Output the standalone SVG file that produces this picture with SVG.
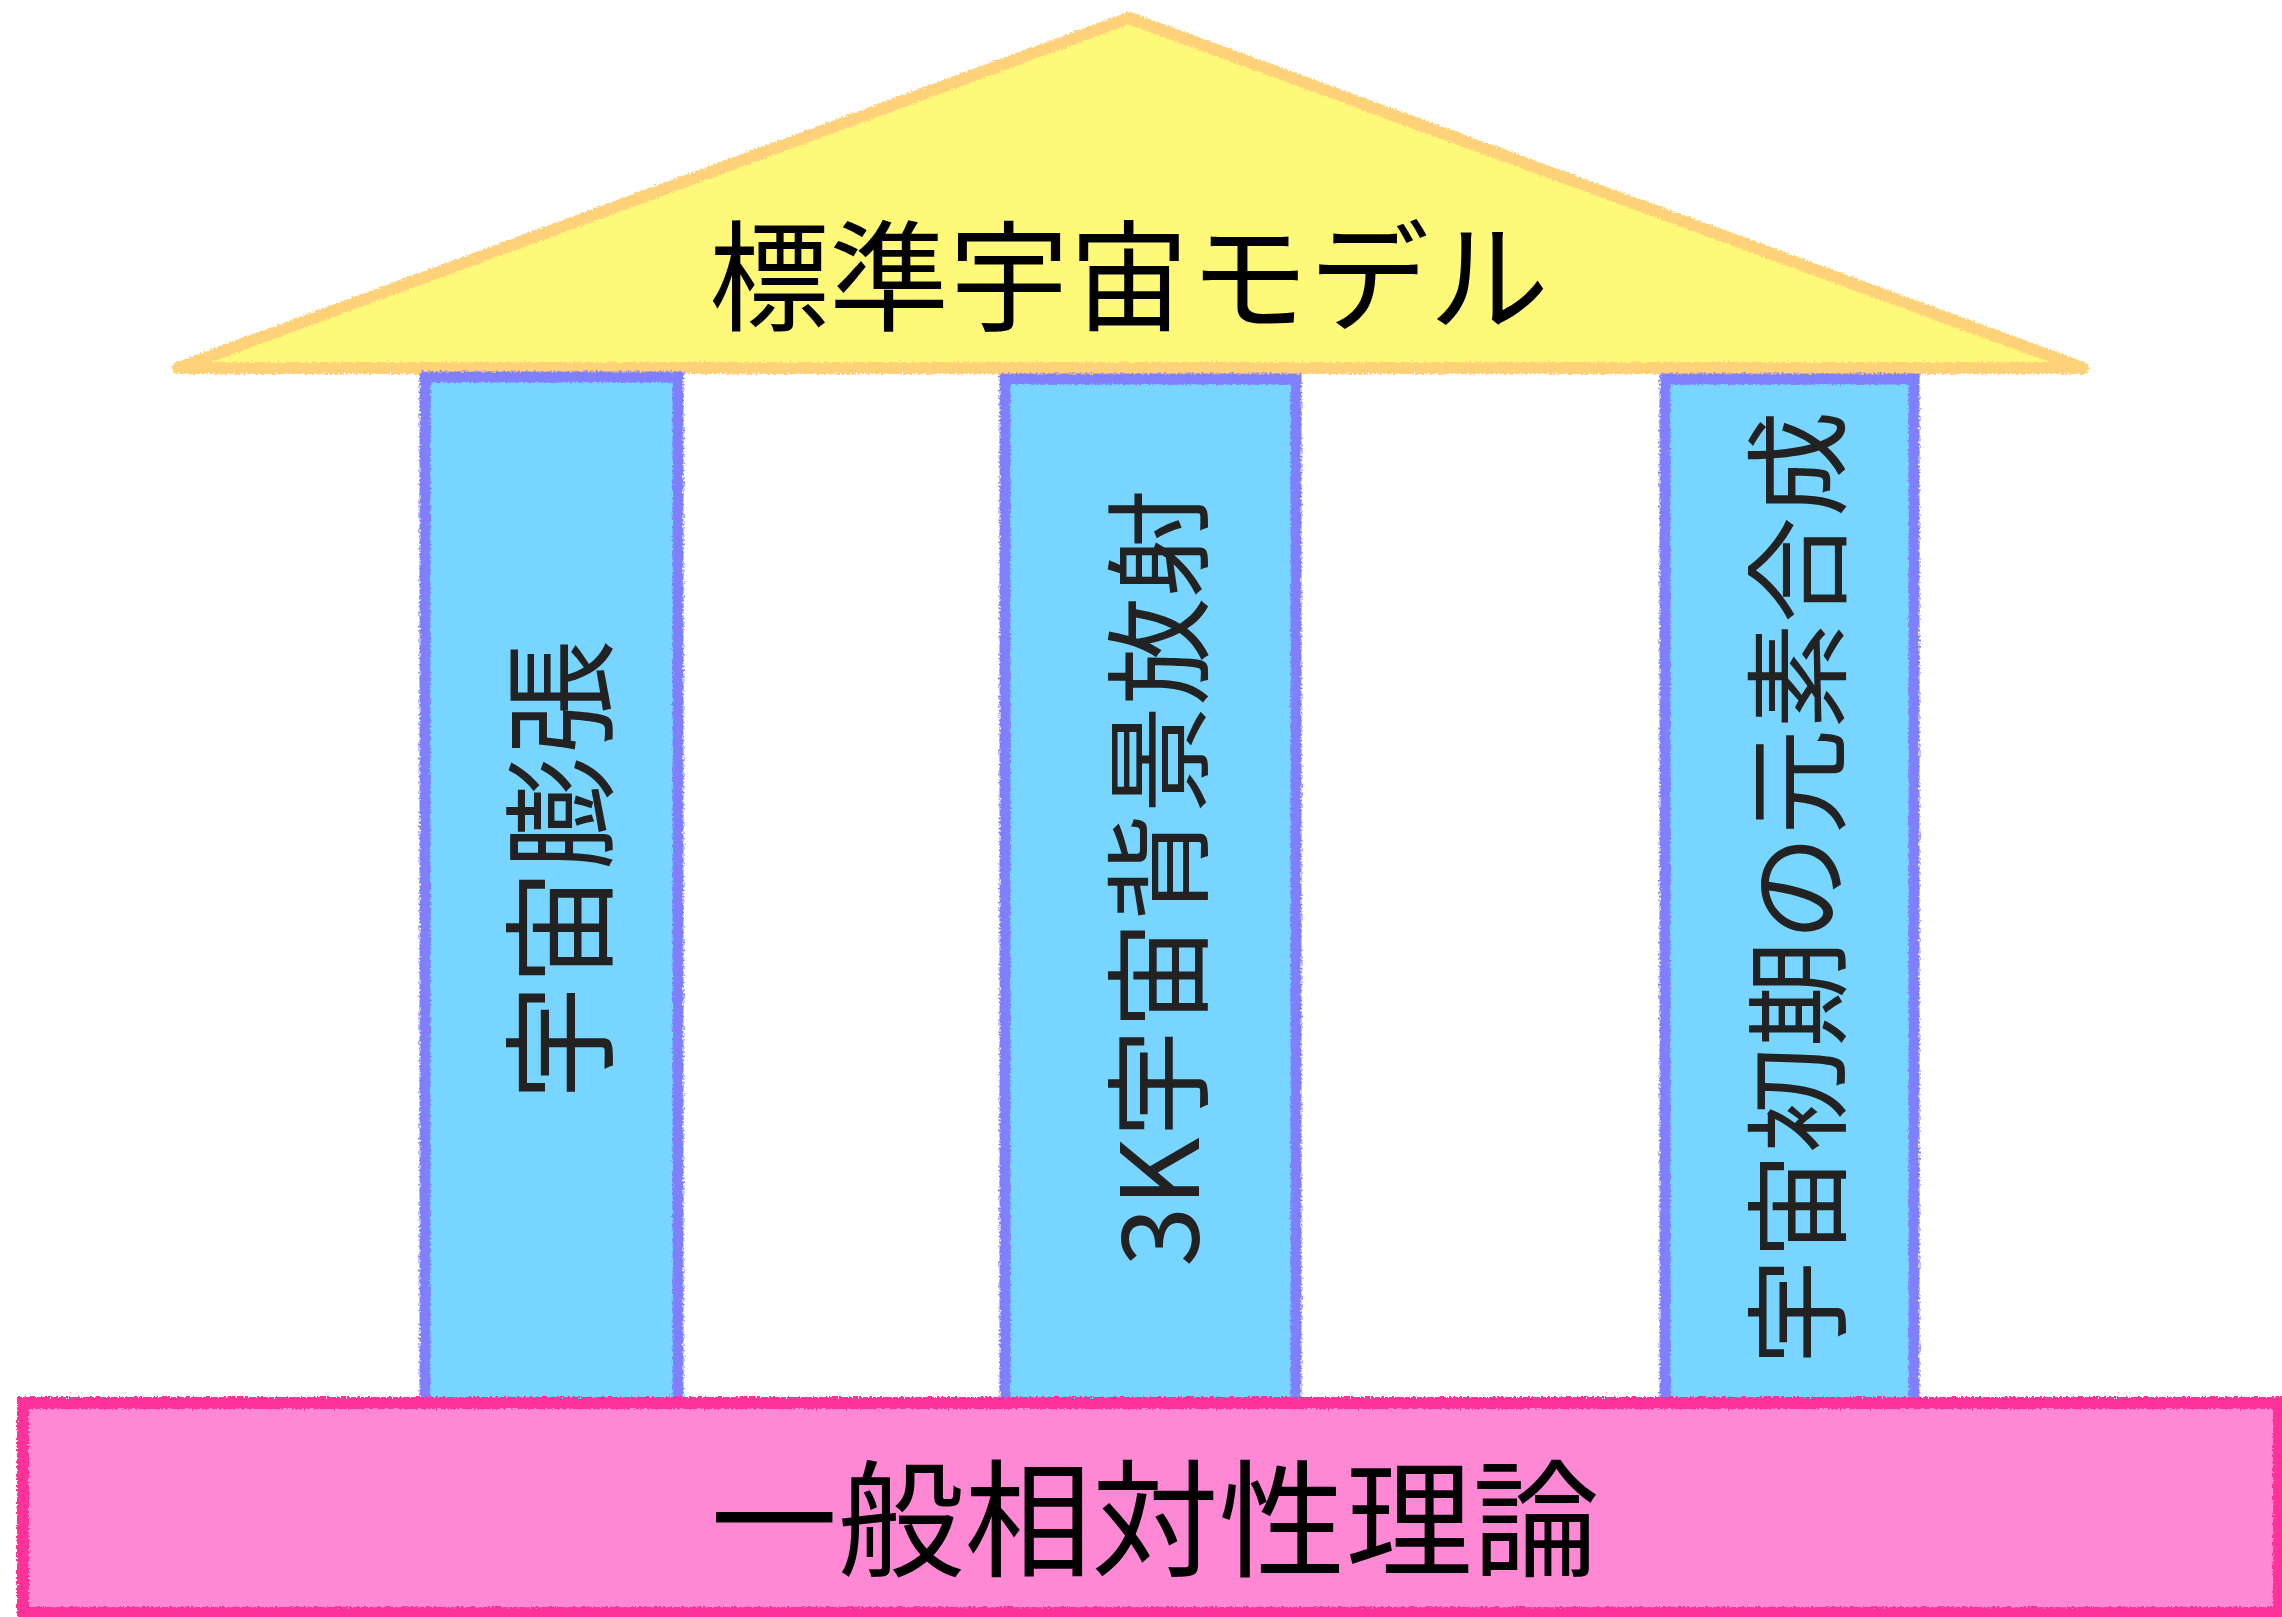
<svg xmlns="http://www.w3.org/2000/svg" width="2282" height="1617" viewBox="0 0 2282 1617">
  <defs>
    <filter id="crayon" x="-5%" y="-5%" width="110%" height="110%">
      <feTurbulence type="fractalNoise" baseFrequency="0.5" numOctaves="2" seed="3" result="noise"/>
      <feDisplacementMap in="SourceGraphic" in2="noise" scale="6" xChannelSelector="R" yChannelSelector="G"/>
    </filter>
  </defs>
  <style>
    .label { font-family: "Noto Sans CJK JP", "Noto Sans", sans-serif; text-anchor: middle; dominant-baseline: central; }
    .roof-fill { fill: #FFF97A; }
    .roof-line { fill: none; stroke: #FFD27A; stroke-width: 12; stroke-linejoin: round; }
    .pillar-fill { fill: #77D5FF; }
    .pillar-line { fill: none; stroke: #8080FF; stroke-width: 11; }
    .base-fill { fill: #FF88D5; }
    .base-line { fill: none; stroke: #FF3399; stroke-width: 12; }
  </style>
  <rect width="2282" height="1617" fill="#FFFFFF"/>

  <g id="roof">
    <polygon class="roof-fill" points="1129,18 178,368 2083,368"/>
    <polygon class="roof-line" points="1129,18 178,368 2083,368" filter="url(#crayon)"/>
    <text class="label" x="1129" y="270" font-size="120" fill="#000000">標準宇宙モデル</text>
  </g>

  <g id="pillar1">
    <rect class="pillar-fill" x="425" y="377" width="253" height="1040"/>
    <rect class="pillar-line" x="425" y="377" width="253" height="1040" filter="url(#crayon)"/>
    <text class="label" transform="translate(553,870) rotate(-90)" x="0" y="0" font-size="115" fill="#222222">宇宙膨張</text>
  </g>

  <g id="pillar2">
    <rect class="pillar-fill" x="1005" y="379" width="291" height="1038"/>
    <rect class="pillar-line" x="1005" y="379" width="291" height="1038" filter="url(#crayon)"/>
    <text class="label" transform="translate(1152,878) rotate(-90)" x="0" y="0" font-size="108" fill="#222222">3K宇宙背景放射</text>
  </g>

  <g id="pillar3">
    <rect class="pillar-fill" x="1665" y="379" width="249" height="1038"/>
    <rect class="pillar-line" x="1665" y="379" width="249" height="1038" filter="url(#crayon)"/>
    <text class="label" transform="translate(1791,888) rotate(-90)" x="0" y="0" font-size="106" fill="#222222">宇宙初期の元素合成</text>
  </g>

  <g id="base">
    <rect class="base-fill" x="23" y="1403" width="2256" height="210"/>
    <rect class="base-line" x="23" y="1403" width="2256" height="210" filter="url(#crayon)"/>
    <text class="label" x="1155" y="1512" font-size="127" fill="#000000">一般相対性理論</text>
  </g>

  <g id="connectors"/>
</svg>
